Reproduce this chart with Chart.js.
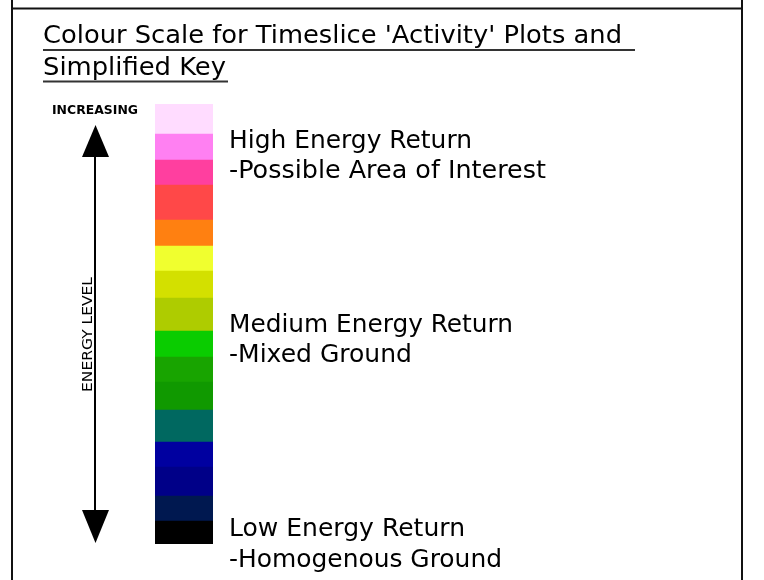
<!DOCTYPE html>
<html>
<head>
<meta charset="utf-8">
<script src="https://cdn.jsdelivr.net/npm/chart.js@4/dist/chart.umd.min.js"></script>
<style>
  html, body { margin: 0; padding: 0; background: #fff; width: 764px; height: 580px; overflow: hidden; }
  #wrap { position: relative; width: 764px; height: 580px; }
  #c { position: absolute; left: 0; top: 0; }
  #ov { position: absolute; left: 0; top: 0; }
  text { font-family: "DejaVu Sans", Verdana, sans-serif; fill: #000; }
</style>
</head>
<body>
<div id="wrap">
  <canvas id="c" width="764" height="580"></canvas>
  <svg id="ov" width="764" height="580" xmlns="http://www.w3.org/2000/svg">
    <!-- frame -->
    <line x1="12" y1="0" x2="12" y2="580" stroke="#111" stroke-width="2"/>
    <line x1="742" y1="0" x2="742" y2="580" stroke="#111" stroke-width="2"/>
    <line x1="12" y1="8.5" x2="742" y2="8.5" stroke="#111" stroke-width="2"/>
    <!-- title -->
    <text id="t1" x="43" y="43" font-size="24" textLength="579" lengthAdjust="spacingAndGlyphs"></text>
    <line x1="43" y1="50" x2="635" y2="50" stroke="#333" stroke-width="2"/>
    <text id="t2" x="43" y="75" font-size="24" textLength="183" lengthAdjust="spacingAndGlyphs"></text>
    <line x1="43" y1="81.5" x2="228" y2="81.5" stroke="#333" stroke-width="2"/>
    <!-- arrow -->
    <line x1="95" y1="150" x2="95" y2="515" stroke="#000" stroke-width="2"/>
    <polygon points="95.5,125 82,157 109,157" fill="#000"/>
    <polygon points="95.5,543 82,510 109,510" fill="#000"/>
    <text id="inc" x="52" y="113.5" font-size="13" font-weight="bold" textLength="86" lengthAdjust="spacingAndGlyphs"></text>
    <text id="axisTitle" transform="translate(92,392) rotate(-90)" x="0" y="0" font-size="14" textLength="115" lengthAdjust="spacingAndGlyphs"></text>
    <g id="labels"></g>
  </svg>
</div>
<script>
// ---- data (bottom to top) ----
const levelNames = ['L1','L2','L3','L4','L5','L6','L7','L8','L9','L10','L11','L12','L13','L14','L15','L16'];
const bandSizes = [23, 25, 29, 25, 32, 28, 25, 26, 33, 27, 25, 26, 35, 25, 26, 30];
const bandColors = ['#000000','#001850','#000088','#0000A0','#006860','#109900','#18A400','#0ACC00',
                    '#AECC00','#D3E000','#F0FF2F','#FF8011','#FF4848','#FF3F9F','#FF80F2','#FFDCFF'];
const titleLines = ["Colour Scale for Timeslice 'Activity' Plots and", "Simplified Key"];
const keyLabels = ['High Energy Return', '-Possible Area of Interest',
                   'Medium Energy Return', '-Mixed Ground',
                   'Low Energy Return', '-Homogenous Ground'];
const keyWidths = [243, 317, 284, 183, 236, 273];
const keyBaselines = [148, 178, 332, 362, 536, 567];
const axisText = 'ENERGY LEVEL';
const topText = 'INCREASING';

document.getElementById('t1').textContent = titleLines[0];
document.getElementById('t2').textContent = titleLines[1];
document.getElementById('inc').textContent = topText;
document.getElementById('axisTitle').textContent = axisText;
const g = document.getElementById('labels');
keyLabels.forEach((s, i) => {
  const t = document.createElementNS('http://www.w3.org/2000/svg', 'text');
  t.setAttribute('x', 229);
  t.setAttribute('y', keyBaselines[i]);
  t.setAttribute('font-size', 24);
  t.setAttribute('textLength', keyWidths[i]);
  t.setAttribute('lengthAdjust', 'spacingAndGlyphs');
  t.textContent = s;
  g.appendChild(t);
});

const total = bandSizes.reduce((a, b) => a + b, 0);
new Chart(document.getElementById('c'), {
  type: 'bar',
  data: {
    labels: ['Energy'],
    datasets: bandSizes.map((v, i) => ({
      label: levelNames[i],
      data: [v],
      backgroundColor: bandColors[i],
      borderWidth: 0,
      barPercentage: 1,
      categoryPercentage: 1
    }))
  },
  options: {
    responsive: false,
    animation: false,
    layout: { padding: { left: 155, right: 551, top: 104, bottom: 36 } },
    plugins: { legend: { display: false }, tooltip: { enabled: false }, title: { display: false } },
    scales: {
      x: { stacked: true, display: false },
      y: { stacked: true, display: false, min: 0, max: total }
    }
  }
});
</script>
</body>
</html>
